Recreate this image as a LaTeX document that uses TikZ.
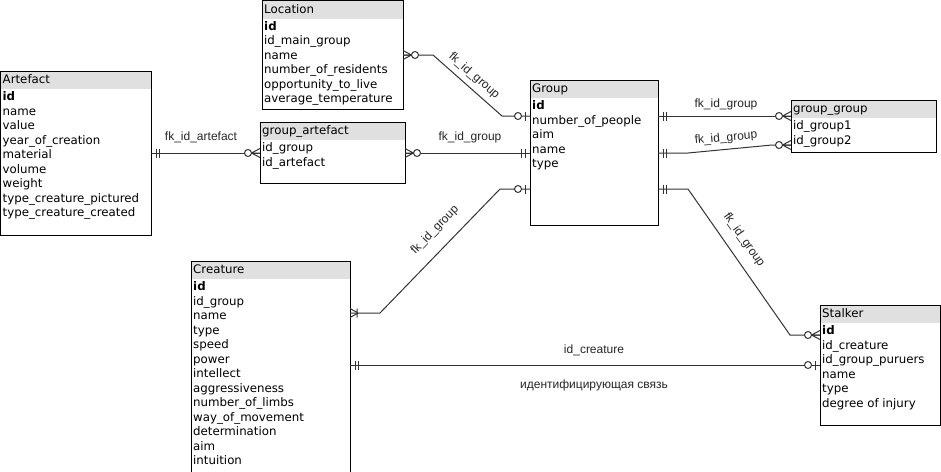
\documentclass[tikz,border=0pt]{standalone}
\usepackage{fontspec}
\setmainfont{DejaVu Sans}
\newfontfamily\lblfont{Liberation Sans}
\usetikzlibrary{calc}
\definecolor{hdr}{HTML}{E0E0E0}
\definecolor{ln}{HTML}{333333}
\tikzset{
 entbox/.style={draw=black, line width=1pt, inner sep=0pt, outer sep=0pt, anchor=north west},
 fld/.style={anchor=base west, inner sep=0pt, font=\fontsize{11.8}{14}\selectfont},
 lbl/.style={inner sep=0pt, font=\lblfont\fontsize{12}{14}\selectfont, text=black!85},
 conn/.style={draw=ln, line width=1pt},
 mk/.style={draw=ln, line width=1pt},
 onemand/.pic={\draw[mk] (5,-4.5) -- (5,4.5) (8.5,-4.5) -- (8.5,4.5);},
 zeroone/.pic={\draw[mk] (5,-4.5) -- (5,4.5); \draw[mk, fill=white] (12,0) circle (3.5);},
 zeromany/.pic={\draw[mk] (8.5,0) -- (0,-4.5) (8.5,0) -- (0,0) (8.5,0) -- (0,4.5); \draw[mk, fill=white] (12,0) circle (3.5);},
 onemany/.pic={\draw[mk] (8,0) -- (0,-4.5) (8,0) -- (0,4.5) (7,-4.5) -- (7,4.5);},
}
% #1 name, #2 x, #3 y, #4 width, #5 height, #6 title, #7 fields
\newcommand{\erent}[7]{%
  \fill[hdr] (#2,#3) rectangle ++(#4,18);
  \node[entbox, minimum width=#4pt, minimum height=#5pt] (#1) at (#2,#3) {};
  \node[fld] (#1-h) at ($(#1.north west)+(2,12.5)$) {#6};
  \foreach \f [count=\i] in {#7} {
    \node[fld] (#1-\i) at ($(#1.north west)+(2,{29.5+(\i-1)*14.5})$) {\f};
  }
}
\begin{document}
\begin{tikzpicture}[x=1pt,y=-1pt]
\useasboundingbox (0,0) rectangle (941,471);
\clip (0,0) rectangle (941,471);
\fill[white] (0,0) rectangle (941,471);

\erent{loc}{262}{0.5}{141}{108.5}{Location}{\textbf{id},id\_main\_group,name,number\_of\_residents,opportunity\_to\_live,average\_temperature}
\erent{art}{0.5}{71}{150.5}{164}{Artefact}{\textbf{id},name,value,year\_of\_creation,material,volume,weight,type\_creature\_pictured,type\_creature\_created}
\erent{ga}{260}{122}{145}{61}{group\_artefact}{id\_group,id\_artefact}
\erent{grp}{530}{80}{128}{145}{Group}{\textbf{id},number\_of\_people,aim,name,type}
\erent{gg}{791}{100}{145}{52}{group\_group}{id\_group1,id\_group2}
\erent{cre}{191}{261}{159}{220}{Creature}{\textbf{id},id\_group,name,type,speed,power,intellect,aggressiveness,number\_of\_limbs,way\_of\_movement,determination,aim,intuition}
\erent{stk}{820}{305}{120}{120}{Stalker}{\textbf{id},id\_creature,id\_group\_puruers,name,type,degree of injury}

% Artefact - group_artefact
\draw[conn] (art.east |- 0,153) -- (ga.west |- 0,153);
\pic at (art.east |- 0,153) {onemand};
\pic[rotate=180] at (ga.west |- 0,153) {zeromany};
\node[lbl] (l1) at (201,137) {fk\_id\_artefact};

% group_artefact - Group
\draw[conn] (ga.east |- 0,153) -- (grp.west |- 0,153);
\pic at (ga.east |- 0,153) {zeromany};
\pic[rotate=180] at (grp.west |- 0,153) {onemand};
\node[lbl] (l2) at (470,137) {fk\_id\_group};

% Location - Group
\draw[conn] (loc.east |- 0,55) -- (433,55) -- (502,116) -- (grp.west |- 0,116);
\pic at (loc.east |- 0,55) {zeromany};
\pic[rotate=180] at (grp.west |- 0,116) {zeroone};
\node[lbl, rotate=-41] (l3) at (474,76) {fk\_id\_group};

% Group - group_group (1)
\draw[conn] (grp.east |- 0,116) -- (gg.west |- 0,116);
\pic at (grp.east |- 0,116) {onemand};
\pic[rotate=180] at (gg.west |- 0,116) {zeromany};
\node[lbl] (l4) at (726,104) {fk\_id\_group};

% Group - group_group (2)
\draw[conn] (grp.east |- 0,153) -- (688,153) -- (772,145) -- (gg.west |- 0,145);
\pic at (grp.east |- 0,153) {onemand};
\pic[rotate=180] at (gg.west |- 0,145) {zeromany};
\node[lbl, rotate=5] (l5) at (726,138) {fk\_id\_group};

% Group - Creature
\draw[conn] (grp.west |- 0,189) -- (500,189) -- (380,313) -- (cre.east |- 0,313);
\pic[rotate=180] at (grp.west |- 0,189) {zeroone};
\pic at (cre.east |- 0,313) {onemany};
\node[lbl, rotate=46] (l6) at (435,230) {fk\_id\_group};

% Group - Stalker
\draw[conn] (grp.east |- 0,189) -- (688,189) -- (790,335) -- (stk.west |- 0,335);
\pic at (grp.east |- 0,189) {onemand};
\pic[rotate=180] at (stk.west |- 0,335) {zeromany};
\node[lbl, rotate=-55] (l7) at (744,240) {fk\_id\_group};

% Creature - Stalker
\draw[conn] (cre.east |- 0,365) -- (stk.west |- 0,365);
\pic at (cre.east |- 0,365) {onemand};
\pic[rotate=180] at (stk.west |- 0,365) {zeroone};
\node[lbl] (l8) at (594,350) {id\_creature};
\node[lbl] (l9) at (594,385) {идентифицирующая связь};
\end{tikzpicture}
\end{document}
